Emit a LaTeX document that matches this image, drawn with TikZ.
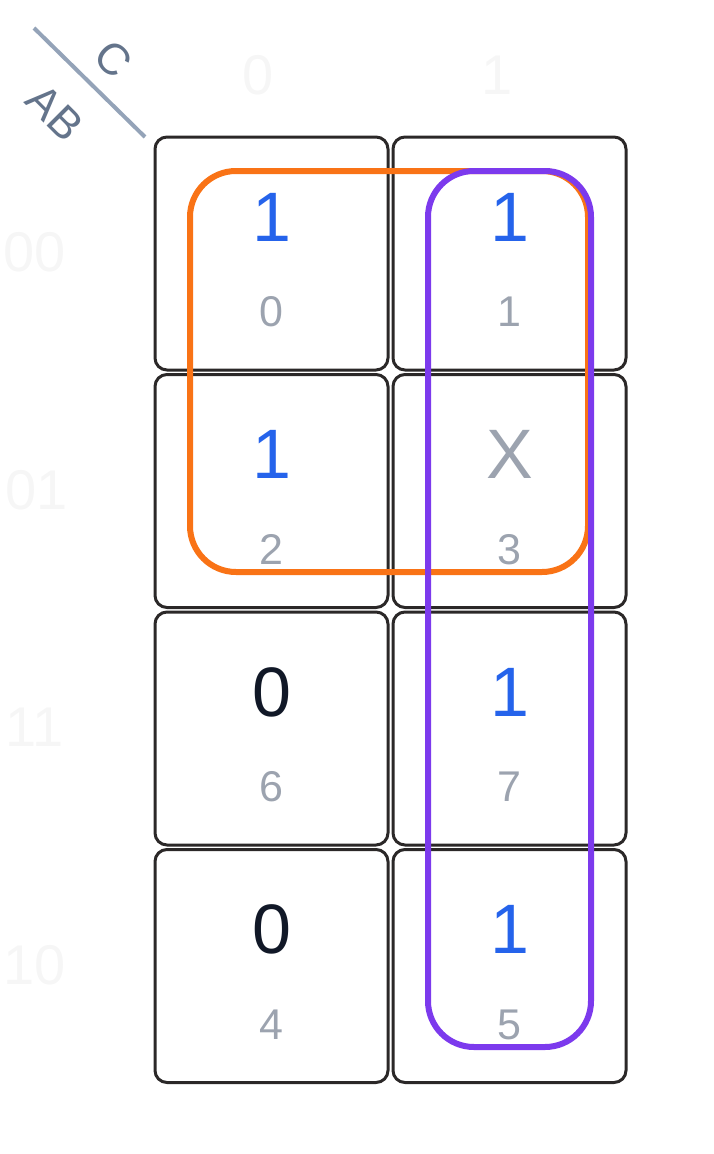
\documentclass[tikz,border=0pt]{standalone}
\usepackage{fontspec}
\setmainfont{Liberation Sans}
\definecolor{cellline}{HTML}{2B2828}
\definecolor{valblue}{HTML}{2563EB}
\definecolor{valdark}{HTML}{111827}
\definecolor{idxgray}{HTML}{9CA3AF}
\definecolor{grporange}{HTML}{F97316}
\definecolor{grppurple}{HTML}{7C3AED}
\definecolor{diagline}{HTML}{94A3B8}
\definecolor{diagtext}{HTML}{64748B}
\definecolor{faint}{HTML}{F6F6F6}
\begin{document}
\begin{tikzpicture}[x=1pt,y=-1pt,
  cellbox/.style={draw=cellline,line width=3pt,rounded corners=12pt,minimum width=233pt,minimum height=233pt,inner sep=0pt},
  valone/.style={text=valblue,font=\fontsize{70}{70}\selectfont,inner sep=0pt},
  valzero/.style={text=valdark,font=\fontsize{70}{70}\selectfont,inner sep=0pt},
  valx/.style={text=idxgray,font=\fontsize{70}{70}\selectfont,inner sep=0pt},
  idx/.style={text=idxgray,font=\fontsize{43}{43}\selectfont,inner sep=0pt},
  hdr/.style={text=faint,font=\fontsize{56}{56}\selectfont,inner sep=0pt},
  diaglbl/.style={text=diagtext,font=\fontsize{44}{44}\selectfont,inner sep=0pt,rotate=-45},
  grp/.style={line width=6pt,rounded corners=46pt}]
\useasboundingbox (0,0) rectangle (714,1154);
% header labels (faint)
\node[hdr] (h0) at (258,75) {0};
\node[hdr] (h1) at (497,75) {1};
\node[hdr] (r00) at (35,252) {00};
\node[hdr] (r01) at (37,490) {01};
\node[hdr] (r11) at (35,727) {11};
\node[hdr] (r10) at (35,965) {10};
% diagonal corner
\coordinate (dA) at (34,28);
\coordinate (dB) at (145,137);
\draw[diagline,line width=4pt] (dA) -- (dB);
\node[diaglbl] (lc) at (113,59) {C};
\node[diaglbl] (lab) at (55,113) {AB};
% cells
\node[cellbox] (c0) at (271.5,253.5) {};
\node[cellbox] (c1) at (509.5,253.5) {};
\node[cellbox] (c2) at (271.5,491) {};
\node[cellbox] (c3) at (509.5,491) {};
\node[cellbox] (c6) at (271.5,728.5) {};
\node[cellbox] (c7) at (509.5,728.5) {};
\node[cellbox] (c4) at (271.5,966) {};
\node[cellbox] (c5) at (509.5,966) {};
% values
\node[valone]  (v0) at ([yshift=36.5pt]c0.center) {1};
\node[valone]  (v1) at ([yshift=36.5pt]c1.center) {1};
\node[valone]  (v2) at ([yshift=36.5pt]c2.center) {1};
\node[valx]    (v3) at ([yshift=36.5pt]c3.center) {X};
\node[valzero] (v6) at ([yshift=36.5pt]c6.center) {0};
\node[valone]  (v7) at ([yshift=36.5pt]c7.center) {1};
\node[valzero] (v4) at ([yshift=36.5pt]c4.center) {0};
\node[valone]  (v5) at ([yshift=36.5pt]c5.center) {1};
% indices
\node[idx] (i0) at ([yshift=-58.5pt]c0.center) {0};
\node[idx] (i1) at ([yshift=-58.5pt]c1.center) {1};
\node[idx] (i2) at ([yshift=-58.5pt]c2.center) {2};
\node[idx] (i3) at ([yshift=-58.5pt]c3.center) {3};
\node[idx] (i6) at ([yshift=-58.5pt]c6.center) {6};
\node[idx] (i7) at ([yshift=-58.5pt]c7.center) {7};
\node[idx] (i4) at ([yshift=-58.5pt]c4.center) {4};
\node[idx] (i5) at ([yshift=-58.5pt]c5.center) {5};
% groups
\coordinate (oTL) at (190,171);
\coordinate (oBR) at (588,572);
\coordinate (pTL) at (428,171);
\coordinate (pBR) at (591,1047);
\draw[grp,draw=grporange] (oTL) rectangle (oBR);
\draw[grp,draw=grppurple] (pTL) rectangle (pBR);
\end{tikzpicture}
\end{document}
